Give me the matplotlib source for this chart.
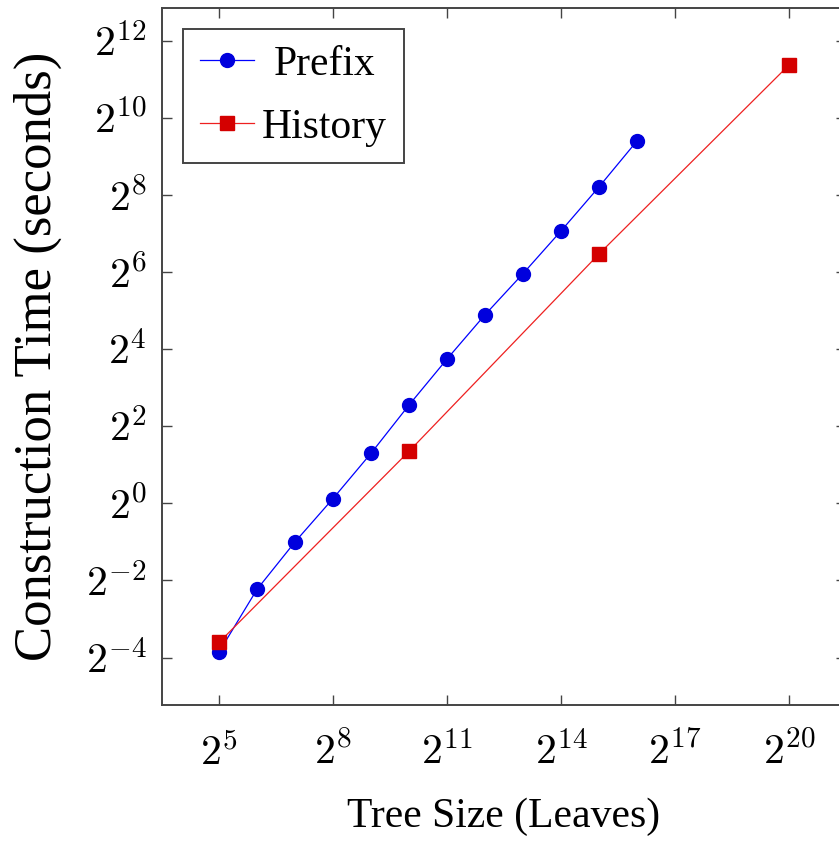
import matplotlib
matplotlib.use("Agg")
import matplotlib.pyplot as plt
import numpy as np

# Data (construction time in seconds)
prefix_leaves = [2**5, 2**6, 2**7, 2**8, 2**9, 2**10, 2**11, 2**12, 2**13, 2**14, 2**15, 2**16]
prefix_time = [0.069, 0.213, 0.50, 1.09, 2.46, 5.86, 13.4, 29.7, 62.2, 134, 296, 676]
history_leaves = [2**5, 2**10, 2**15, 2**20]
history_time = [0.082, 2.55, 88.6, 2650]

x_tick_exps = [5, 8, 11, 14, 17, 20]
y_tick_exps = [-4, -2, 0, 2, 4, 6, 8, 10, 12]

plt.rcParams['font.family'] = ['Liberation Serif', 'DejaVu Serif']
plt.rcParams['mathtext.fontset'] = 'cm'

W, H = 839, 850
fig = plt.figure(figsize=(W / 100, H / 100), dpi=100)
left_px, right_px, top_px, bottom_px = 162, 846, 8, 705
ax = fig.add_axes([left_px / W, 1 - bottom_px / H,
                   (right_px - left_px) / W, (bottom_px - top_px) / H])

ax.plot(prefix_leaves, prefix_time, color='#0000ff', lw=0.9, marker='o',
        markersize=10, markerfacecolor='#0000dd', markeredgecolor='#0000dd',
        label='Prefix', zorder=3)
ax.plot(history_leaves, history_time, color='#ee2020', lw=0.9, marker='s',
        markersize=9.5, markerfacecolor='#d40000', markeredgecolor='#d40000',
        label='History', zorder=4)

ax.set_xscale('log', base=2)
ax.set_yscale('log', base=2)
ax.set_xlim(2**3.5, 2**21.5)
ax.set_ylim(2**-5.23, 2**12.85)

ax.set_xticks([2.0**e for e in x_tick_exps])
ax.set_xticklabels([r'$2^{%d}$' % e for e in x_tick_exps])
ax.set_yticks([2.0**e for e in y_tick_exps])
ax.set_yticklabels([r'$2^{%d}$' % e for e in y_tick_exps])
ax.minorticks_off()

ax.tick_params(axis='both', which='major', direction='in', length=7, width=1.0,
               color='#444444', top=True, right=True, labelsize=30)
ax.tick_params(axis='x', pad=20)
ax.tick_params(axis='y', pad=11)
for s in ax.spines.values():
    s.set_linewidth(1.4)
    s.set_color('#444444')

ax.set_xlabel('Tree Size (Leaves)', fontsize=30, labelpad=17)
ax.set_ylabel('Construction Time (seconds)', fontsize=38, labelpad=17)

leg = ax.legend(loc='upper left', fontsize=30, frameon=True, fancybox=False,
                edgecolor='#444444', framealpha=1, borderpad=0.4,
                handlelength=1.3, handletextpad=0.2, labelspacing=0.58,
                borderaxespad=0.5)
leg.get_frame().set_linewidth(1.4)

# centre the legend texts within their column
fig.canvas.draw()
renderer = fig.canvas.get_renderer()
texts = leg.get_texts()
widths = [t.get_window_extent(renderer).width for t in texts]
maxw = max(widths)
for t, w in zip(texts, widths):
    t.set_position(((maxw - w) / 2, 0))

fig.savefig('out.png', dpi=100)
